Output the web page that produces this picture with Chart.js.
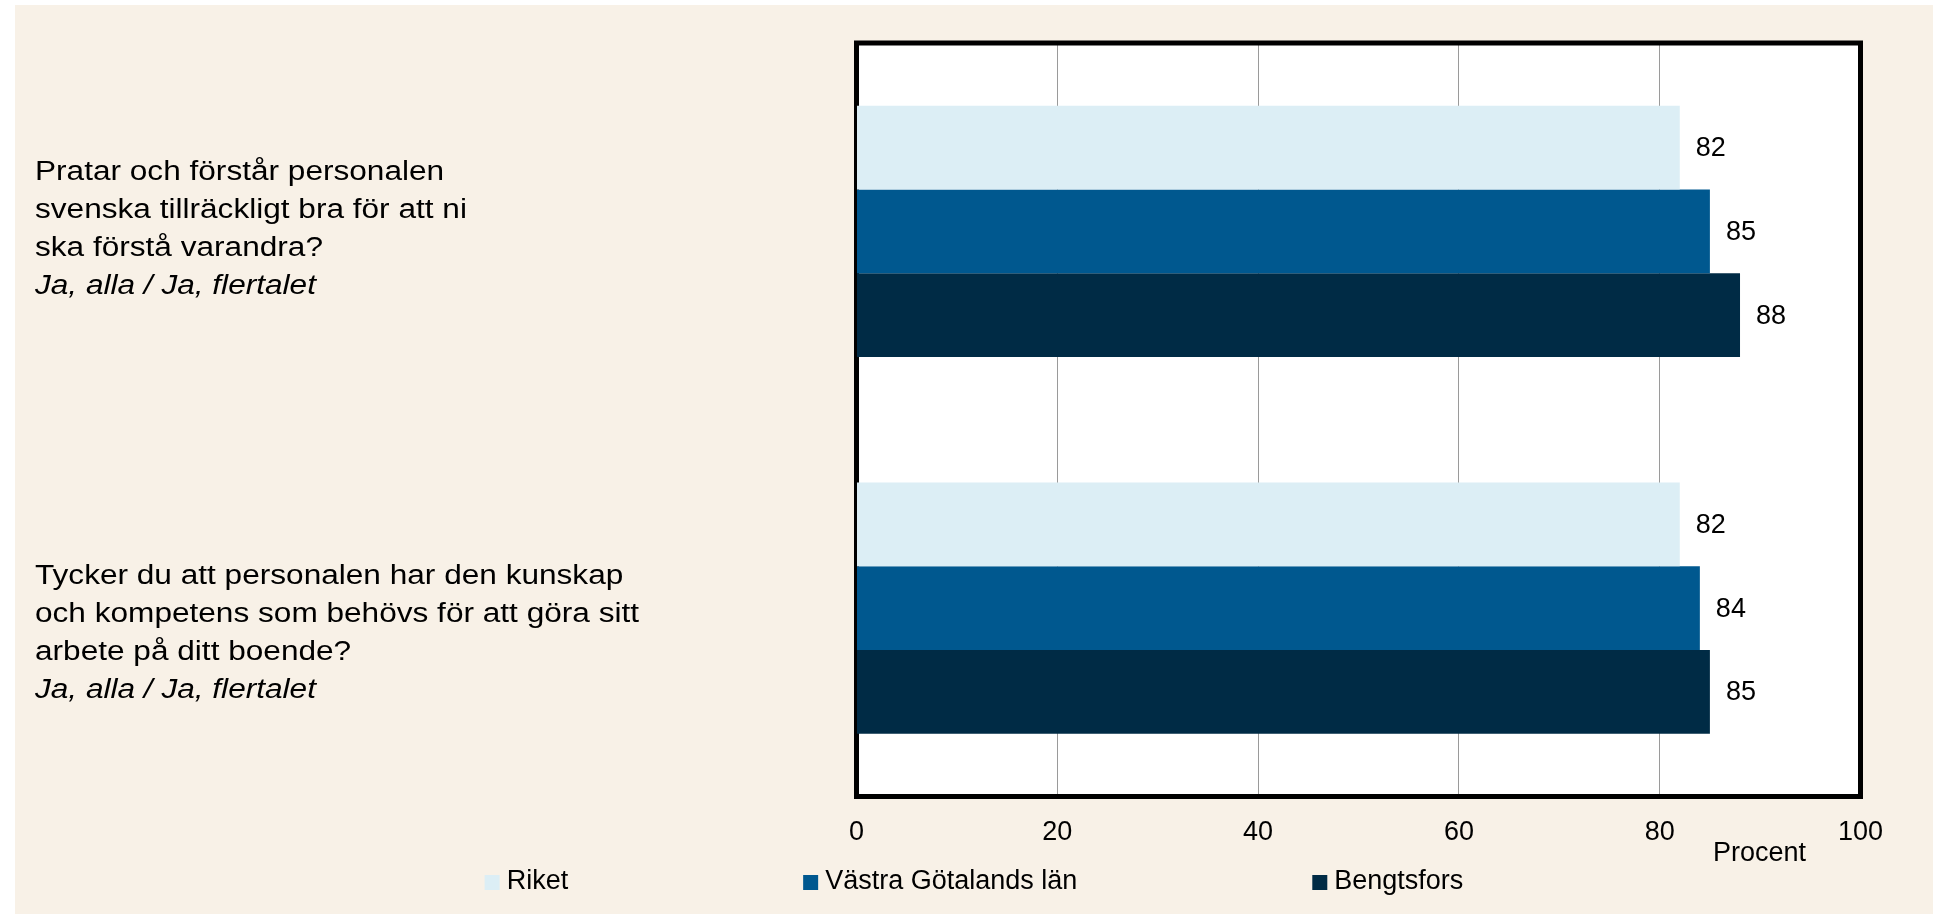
<!DOCTYPE html>
<html>
<head>
<meta charset="utf-8">
<script src="https://cdn.jsdelivr.net/npm/chart.js@4"></script>
<style>
  html, body { margin: 0; padding: 0; background: #fff; }
  #wrap { width: 1933px; height: 914px; }
</style>
</head>
<body>
<div id="wrap"><canvas id="chart" width="1933" height="914"></canvas></div>
<script>
// data
var questions = [
  ['Pratar och förstår personalen', 'svenska tillräckligt bra för att ni', 'ska förstå varandra?'],
  ['Tycker du att personalen har den kunskap', 'och kompetens som behövs för att göra sitt', 'arbete på ditt boende?']
];
var answers = ['Ja, alla / Ja, flertalet', 'Ja, alla / Ja, flertalet'];
var seriesNames = ['Riket', 'Västra Götalands län', 'Bengtsfors'];
var riket = [82, 82];
var vastraGotaland = [85, 84];
var bengtsfors = [88, 85];
var xTicks = [0, 20, 40, 60, 80, 100];
var xTitle = 'Procent';

var colors = ['#DCEEF5', '#00588F', '#002B45'];
var FONT = "'Liberation Sans', Arial, sans-serif";
var BEIGE = '#F8F1E7';

// backdrop + white plot area
var backdrop = {
  id: 'backdrop',
  beforeDraw: function(chart) {
    var ctx = chart.ctx, a = chart.chartArea;
    ctx.save();
    ctx.fillStyle = BEIGE;
    ctx.fillRect(15, 5, chart.width - 15, chart.height - 5);
    ctx.fillStyle = '#fff';
    ctx.fillRect(a.left, a.top, a.right - a.left, a.bottom - a.top);
    ctx.restore();
  }
};

// thick black frame round the plot
var frame = {
  id: 'frame',
  beforeDatasetsDraw: function(chart) {
    var ctx = chart.ctx, a = chart.chartArea;
    ctx.save();
    ctx.strokeStyle = '#000';
    ctx.lineWidth = 5;
    ctx.strokeRect(a.left, a.top, a.right - a.left, a.bottom - a.top);
    ctx.restore();
  }
};

// numbers after the bars
var valueLabels = {
  id: 'valueLabels',
  afterDatasetsDraw: function(chart) {
    var ctx = chart.ctx;
    ctx.save();
    ctx.font = '27px ' + FONT;
    ctx.fillStyle = '#000';
    ctx.textAlign = 'left';
    ctx.textBaseline = 'middle';
    chart.data.datasets.forEach(function(ds, i) {
      chart.getDatasetMeta(i).data.forEach(function(el, j) {
        ctx.fillText(ds.data[j], el.x + 16, el.y + 1);
      });
    });
    ctx.restore();
  }
};

// question texts, last line in italics (text is a bit wide in the original)
var questionLabels = {
  id: 'questionLabels',
  afterDraw: function(chart) {
    var ctx = chart.ctx, y = chart.scales.y;
    var shift = [-2, 25];
    var lh = 38;
    var stretch = 1.17;
    ctx.save();
    ctx.fillStyle = '#000';
    ctx.textAlign = 'left';
    ctx.textBaseline = 'middle';
    ctx.translate(35, 0);
    ctx.scale(stretch, 1);
    questions.forEach(function(lines, i) {
      var all = lines.concat([answers[i]]);
      var c = y.getPixelForTick(i) + shift[i];
      all.forEach(function(t, k) {
        ctx.font = (k === all.length - 1 ? 'italic ' : '') + '27px ' + FONT;
        ctx.fillText(t, 0, c + (k - (all.length - 1) / 2) * lh);
      });
    });
    ctx.restore();
  }
};

// axis title under the ticks
var axisTitle = {
  id: 'axisTitle',
  afterDraw: function(chart) {
    var ctx = chart.ctx, a = chart.chartArea;
    ctx.save();
    ctx.font = '27px ' + FONT;
    ctx.fillStyle = '#000';
    ctx.textAlign = 'center';
    ctx.textBaseline = 'middle';
    ctx.fillText(xTitle, a.right - 101, 854);
    ctx.restore();
  }
};

// legend row at the bottom
var legendRow = {
  id: 'legendRow',
  afterDraw: function(chart) {
    var ctx = chart.ctx;
    var box = 15, gapText = 7, gapItem = 235, yMid = 882;
    ctx.save();
    ctx.font = '27px ' + FONT;
    var widths = seriesNames.map(function(n) { return box + gapText + ctx.measureText(n).width; });
    var total = widths.reduce(function(s, w) { return s + w; }, 0) + gapItem * (widths.length - 1);
    var x = (15 + chart.width) / 2 - total / 2;
    ctx.textAlign = 'left';
    ctx.textBaseline = 'middle';
    seriesNames.forEach(function(n, i) {
      ctx.fillStyle = colors[i];
      ctx.fillRect(x, yMid - 7, box, box);
      ctx.fillStyle = '#000';
      ctx.fillText(n, x + box + gapText, yMid);
      x += widths[i] + gapItem;
    });
    ctx.restore();
  }
};

var ctx = document.getElementById('chart').getContext('2d');
var chart = new Chart(ctx, {
  type: 'bar',
  data: {
    labels: questions.map(function(q) { return q.join(' '); }),
    datasets: [
      { label: seriesNames[0], data: riket, backgroundColor: colors[0] },
      { label: seriesNames[1], data: vastraGotaland, backgroundColor: colors[1] },
      { label: seriesNames[2], data: bengtsfors, backgroundColor: colors[2] }
    ]
  },
  options: {
    indexAxis: 'y',
    responsive: false,
    animation: false,
    layout: { padding: { left: 0, top: 43, right: 72.5, bottom: 0 } },
    datasets: { bar: { categoryPercentage: 0.667, barPercentage: 1 } },
    scales: {
      x: {
        min: 0,
        max: 100,
        afterBuildTicks: function(scale) {
          scale.ticks = xTicks.map(function(v) { return { value: v }; });
        },
        afterFit: function(scale) { scale.height = 914 - 796.5; },
        grid: { color: '#9a9a9a', lineWidth: 1, drawTicks: false },
        border: { display: false },
        ticks: { font: { family: FONT, size: 27 }, color: '#000', padding: 20 }
      },
      y: {
        afterFit: function(scale) { scale.width = 856.5; },
        grid: { display: false },
        border: { display: false },
        ticks: { display: false }
      }
    },
    plugins: {
      legend: { display: false },
      tooltip: { enabled: false }
    }
  },
  plugins: [backdrop, frame, valueLabels, questionLabels, axisTitle, legendRow]
});
</script>
</body>
</html>
